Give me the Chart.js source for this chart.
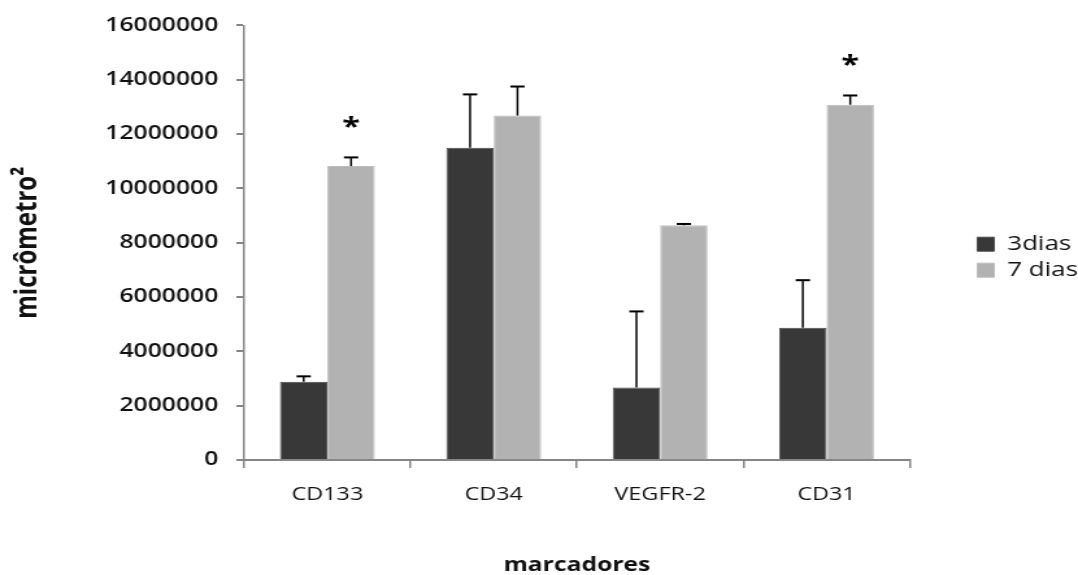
<!DOCTYPE html>
<html>
<head>
<meta charset="utf-8">
<script src="https://cdn.jsdelivr.net/npm/chart.js@4"></script>
<style>
  html, body { margin: 0; padding: 0; background: #fff; overflow: hidden; }
  #wrap { width: 830px; height: 575px; transform: scaleX(1.2988); transform-origin: 0 0; }
</style>
</head>
<body>
<div id="wrap"><canvas id="grafico" width="830" height="575"></canvas></div>
<script>
// --- DATOS ---
const categorias = ['CD133', 'CD34', 'VEGFR-2', 'CD31'];
const series = ['3dias', '7 dias'];
const dias3 = [2880000, 11500000, 2670000, 4870000];
const erro3 = [200000, 1960000, 2800000, 1750000];
const dias7 = [10820000, 12680000, 8640000, 13080000];
const erro7 = [320000, 1070000, 50000, 340000];
const signif7 = ['*', '', '', '*'];
const ticksY = [0, 2000000, 4000000, 6000000, 8000000, 10000000, 12000000, 14000000, 16000000];

const FONTE = '"Open Sans", "Liberation Sans", sans-serif';

// barras de erro (solo hacia arriba) y asteriscos
const errorBars = {
  id: 'errorBars',
  afterDatasetsDraw(chart) {
    const { ctx, scales: { y } } = chart;
    ctx.save();
    ctx.strokeStyle = '#000';
    chart.data.datasets.forEach((ds, i) => {
      const meta = chart.getDatasetMeta(i);
      meta.data.forEach((bar, j) => {
        const base = y.getPixelForValue(ds.data[j]);
        const top = y.getPixelForValue(ds.data[j] + ds.erros[j]);
        ctx.lineWidth = 1.5;
        ctx.beginPath();
        ctx.moveTo(bar.x, base);
        ctx.lineTo(bar.x, top);
        ctx.stroke();
        ctx.lineWidth = 2;
        ctx.beginPath();
        ctx.moveTo(bar.x - 5.5, top);
        ctx.lineTo(bar.x + 5.5, top);
        ctx.stroke();
        if (ds.signif && ds.signif[j]) {
          ctx.fillStyle = '#000';
          ctx.font = 'bold 25px ' + FONTE;
          ctx.textAlign = 'center';
          ctx.textBaseline = 'middle';
          ctx.fillText(ds.signif[j], bar.x, top - 30);
        }
      });
    });
    ctx.restore();
  }
};

new Chart(document.getElementById('grafico'), {
  type: 'bar',
  data: {
    labels: categorias,
    datasets: [
      { label: series[0], data: dias3, erros: erro3, backgroundColor: '#383838', borderColor: '#4a4a4a', borderWidth: 1, categoryPercentage: 0.57, barPercentage: 1 },
      { label: series[1], data: dias7, erros: erro7, signif: signif7, backgroundColor: '#b2b2b2', borderColor: '#bdbdbd', borderWidth: 1, categoryPercentage: 0.57, barPercentage: 1 }
    ]
  },
  options: {
    responsive: false,
    animation: false,
    devicePixelRatio: 1,
    layout: { padding: { top: 24, right: -10, bottom: 0, left: 0 } },
    plugins: {
      legend: {
        position: 'right',
        align: 'center',
        fullSize: false,
        labels: { boxWidth: 13, boxHeight: 14, padding: 6, color: '#111', font: { family: FONTE, size: 20, weight: '500' } },
        title: { display: true, text: '', padding: { top: 28, bottom: 0 }, font: { size: 1, lineHeight: 1 } }
      },
      tooltip: { enabled: false }
    },
    scales: {
      x: {
        grid: { offset: true, drawOnChartArea: false, drawTicks: true, tickLength: 8, color: '#868686', lineWidth: 1.5 },
        border: { color: '#868686', width: 2 },
        ticks: { color: '#111', padding: 16, font: { family: FONTE, size: 18, weight: '500' } },
        title: { display: true, text: 'marcadores', color: '#111', padding: { top: 0, bottom: 0 }, font: { family: FONTE, size: 19, weight: 'bold', lineHeight: 1 } },
        afterFit: s => { s.height = 115; }
      },
      y: {
        min: 0,
        max: 16000000,
        afterBuildTicks: s => { s.ticks = ticksY.map(v => ({ value: v })); },
        grid: { drawOnChartArea: false, drawTicks: true, tickLength: 6, color: '#868686', lineWidth: 2 },
        border: { color: '#868686', width: 1.5 },
        ticks: { color: '#111', padding: 14, font: { family: FONTE, size: 19, weight: '600' }, callback: v => String(v) },
        title: { display: true, text: 'micrômetro²', color: '#111', padding: { top: 7, bottom: 0 }, font: { family: FONTE, size: 24, weight: 'bold' } },
        afterFit: s => { s.width = 188; }
      },
      hueco: {
        type: 'linear',
        position: 'right',
        display: true,
        grid: { display: false },
        border: { display: false },
        ticks: { display: false },
        afterFit: s => { s.width = 46; }
      }
    }
  },
  plugins: [errorBars]
});
</script>
</body>
</html>
